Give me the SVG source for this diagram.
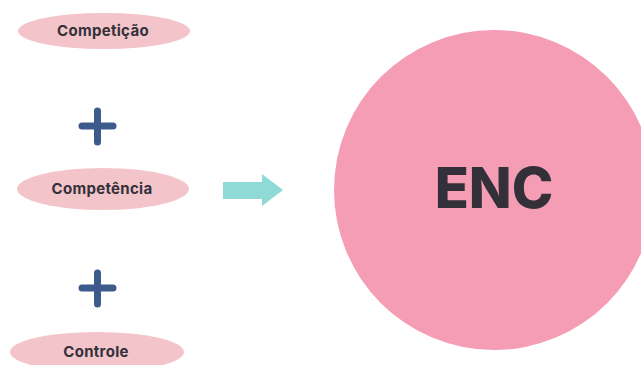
<svg xmlns="http://www.w3.org/2000/svg" width="641" height="365" viewBox="0 0 641 365">
<style>
.pill{fill:#f3c5ca}
.lbl{font-family:Inter,"Noto Sans",sans-serif;font-weight:700;font-size:15px;letter-spacing:0.3px;fill:#34313a;text-anchor:middle}
.plus{stroke:#3c5a8c;stroke-width:7;stroke-linecap:round;fill:none}
</style>
<rect width="641" height="365" fill="#ffffff"/>
<g id="competicao"><ellipse class="pill" cx="104" cy="31" rx="86" ry="18"/><text class="lbl" x="103" y="36">Competição</text></g>
<g id="competencia"><ellipse class="pill" cx="103" cy="189" rx="86" ry="21"/><text class="lbl" x="102" y="194">Competência</text></g>
<g id="controle"><ellipse class="pill" cx="97" cy="352" rx="87" ry="20"/><text class="lbl" x="96" y="357">Controle</text></g>
<g id="enc"><circle cx="494" cy="190" r="160" fill="#f49db4"/><text x="494" y="208" font-family="Inter,'Noto Sans',sans-serif" font-weight="800" font-size="56" fill="#333039" text-anchor="middle">ENC</text></g>
<g id="connectors">
<path class="plus" d="M82 126H113M97.5 111V142"/>
<path class="plus" d="M82 288H113M97.5 273V304"/>
<path d="M223 182H262V174L283 190L262 206V199H223Z" fill="#8fd9d6"/>
</g>
</svg>
